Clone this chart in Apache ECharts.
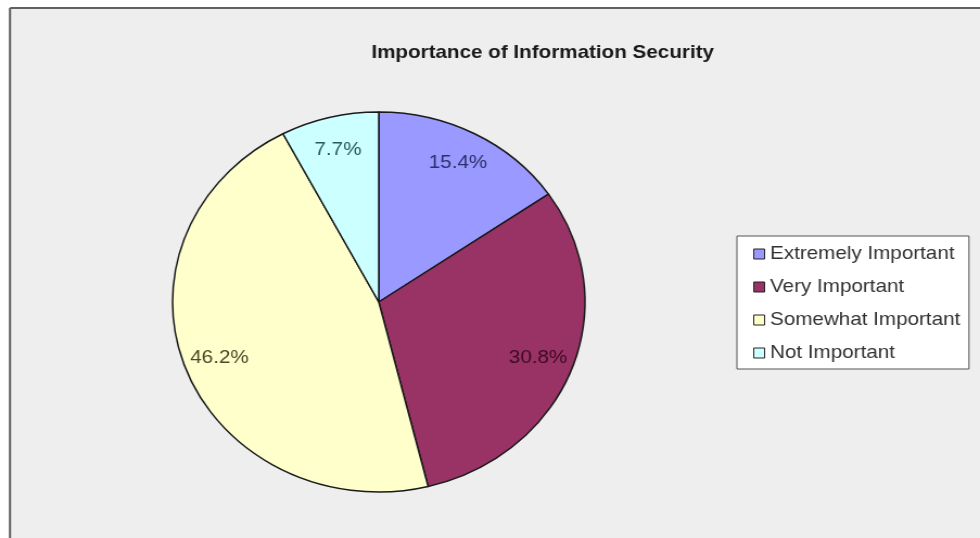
<!DOCTYPE html>
<html>
<head>
<meta charset="utf-8">
<title>Importance of Information Security</title>
<script src="https://cdn.jsdelivr.net/npm/echarts@6/dist/echarts.min.js"></script>
<style>
  html, body { margin: 0; padding: 0; background: #ffffff; overflow: hidden; }
  #wrap { width: 980px; height: 538px; overflow: hidden; position: relative; }
  /* the chart is laid out narrower and widened horizontally, giving the slightly oval pie */
  #chart { width: 903px; height: 538px; transform: scaleX(1.0853); transform-origin: 0 0; }
</style>
</head>
<body>
<div id="wrap"><div id="chart"></div></div>
<script>
// Survey answers (percent of respondents)
const categories = ['Extremely Important', 'Very Important', 'Somewhat Important', 'Not Important'];
const percents = [15.4, 30.8, 46.2, 7.7];
const sliceColors = ['#9999ff', '#993366', '#ffffcc', '#ccffff'];
const labelColors = ['#2e2e6e', '#3e0a24', '#4a4a2a', '#2a5a5a'];
const chartTitle = 'Importance of Information Security';

const FONT = '"Liberation Sans", Arial, sans-serif';

const sliceData = categories.map((name, i) => ({
  name: name,
  value: percents[i],
  itemStyle: { color: sliceColors[i] }
}));

const labelData = categories.map((name, i) => ({
  name: name,
  value: percents[i],
  label: { color: labelColors[i] }
}));

const chart = echarts.init(document.getElementById('chart'), null, { renderer: 'canvas' });

chart.setOption({
  animation: false,
  backgroundColor: '#ffffff',
  graphic: [
    { type: 'rect', silent: true, z: -10,
      shape: { x: 9.2, y: 8, width: 900, height: 540 },
      style: { fill: '#eeeeee' } },
    { type: 'line', silent: true, z: -9,
      shape: { x1: 9.2, y1: 8, x2: 903, y2: 8 },
      style: { stroke: '#606060', lineWidth: 2 } },
    { type: 'line', silent: true, z: -9,
      shape: { x1: 9.2, y1: 8, x2: 9.2, y2: 538 },
      style: { stroke: '#606060', lineWidth: 2 } }
  ],
  title: {
    text: chartTitle,
    left: 500,
    top: 43,
    textAlign: 'center',
    padding: 0,
    textStyle: { fontFamily: FONT, fontSize: 19, fontWeight: 'bold', color: '#1a1a1a' }
  },
  legend: {
    orient: 'vertical',
    left: 679,
    top: 236,
    data: categories,
    backgroundColor: '#ffffff',
    borderColor: '#555555',
    borderWidth: 1,
    borderRadius: 0,
    padding: [8, 8, 6, 15],
    itemWidth: 10,
    itemHeight: 10,
    itemGap: 13,
    icon: 'rect',
    selectedMode: false,
    itemStyle: { borderColor: '#222222', borderWidth: 1 },
    textStyle: { fontFamily: FONT, fontSize: 19, color: '#333333', lineHeight: 20 }
  },
  series: [
    {
      type: 'pie',
      name: 'slices',
      center: [349, 302],
      radius: [0, 190],
      startAngle: 90,
      clockwise: true,
      silent: true,
      label: { show: false },
      labelLine: { show: false },
      itemStyle: { borderColor: '#1a1a1a', borderWidth: 1.5 },
      emphasis: { disabled: true },
      data: sliceData
    },
    {
      // transparent ring used only to place the percentage labels near the rim
      type: 'pie',
      name: 'labels',
      center: [349, 302],
      radius: [118, 190],
      startAngle: 90,
      clockwise: true,
      silent: true,
      itemStyle: { color: 'rgba(0,0,0,0)', borderWidth: 0 },
      emphasis: { disabled: true },
      label: {
        show: true,
        position: 'inside',
        fontFamily: FONT,
        fontSize: 19,
        formatter: p => p.value.toFixed(1) + '%'
      },
      labelLine: { show: false },
      data: labelData
    }
  ]
});
</script>
</body>
</html>
